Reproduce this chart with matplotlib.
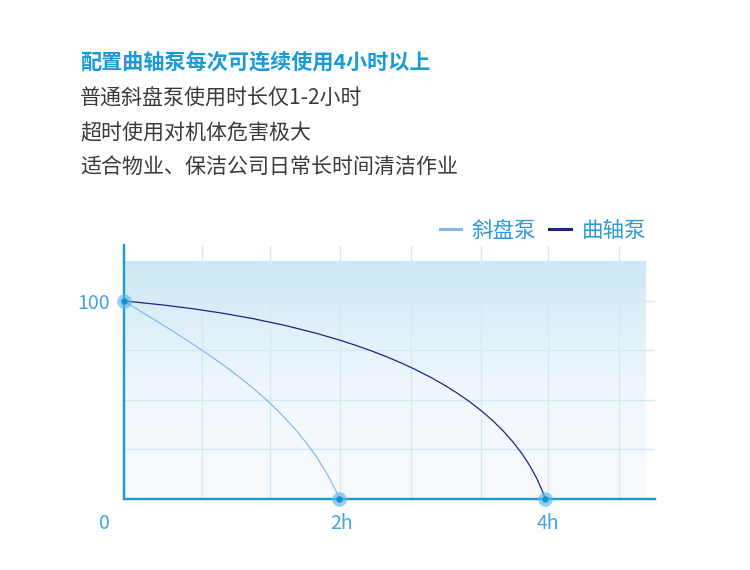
import numpy as np
import matplotlib
matplotlib.use("Agg")
import matplotlib.pyplot as plt
from matplotlib.path import Path
from matplotlib.patches import PathPatch
from matplotlib.lines import Line2D
from matplotlib.colors import LinearSegmentedColormap

plt.rcParams['font.family'] = ['Noto Sans CJK SC', 'DejaVu Sans']

# =========================
# DATA
# =========================
headline = "配置曲轴泵每次可连续使用4小时以上"
notes = ["普通斜盘泵使用时长仅1-2小时",
         "超时使用对机体危害极大",
         "适合物业、保洁公司日常长时间清洁作业"]

series_names = ["斜盘泵", "曲轴泵"]

# (hours, remaining level)
hours_swash = [0, 0.52, 0.72, 0.98, 1.32, 1.61, 1.74, 1.90, 2.0]
level_swash = [100, 82.8, 75.2, 64.8, 50.0, 34.7, 24.6, 9.4, 0]

hours_crank = [0, 0.72, 1.36, 2.01, 2.25, 2.65, 2.94, 3.18, 3.31, 3.52, 3.68, 3.84, 3.91]
level_crank = [100, 95.8, 89.5, 80.2, 75.2, 66.4, 58.2, 50.1, 45.0, 34.7, 24.6, 9.4, 0]

x_labels = ["0", "2h", "4h"]
x_label_pos = [-0.18, 2.02, 3.94]
y_ticks = [100]

grid_x = [0.72, 1.36, 2.01, 2.66, 3.31, 3.94, 4.60]
grid_y = [25, 50, 75, 100]

# =========================
# STYLE
# =========================
BLUE = "#1a9ad8"
LIGHT = "#86b9ea"
DARK = "#1d2488"
GRAY = "#3a3a3a"
GRID = "#d3e9f8"
TICK = "#45a4dc"


def bezier_path(ax, xs, ys):
    # one cubic bezier through the read points (ends fixed, least squares
    # for the two handles), fitted in pixel space
    pts = ax.transData.transform(np.column_stack([xs, ys]))
    d = np.r_[0, np.cumsum(np.hypot(*np.diff(pts, axis=0).T))]
    t = d / d[-1]
    p0, p3 = pts[0], pts[-1]
    for _ in range(20):
        b0 = (1 - t) ** 3
        b1 = 3 * t * (1 - t) ** 2
        b2 = 3 * t ** 2 * (1 - t)
        b3 = t ** 3
        A = np.column_stack([b1, b2])
        rhs = pts - np.outer(b0, p0) - np.outer(b3, p3)
        ctrl, *_ = np.linalg.lstsq(A, rhs, rcond=None)
        p1, p2 = ctrl
        # refine the parameters (one newton step per point)
        c = (np.outer(b0, p0) + np.outer(b1, p1) + np.outer(b2, p2)
             + np.outer(b3, p3))
        dc = (3 * np.outer((1 - t) ** 2, p1 - p0)
              + 6 * np.outer(t * (1 - t), p2 - p1)
              + 3 * np.outer(t ** 2, p3 - p2))
        ddc = (6 * np.outer(1 - t, p2 - 2 * p1 + p0)
               + 6 * np.outer(t, p3 - 2 * p2 + p1))
        num = np.sum((c - pts) * dc, axis=1)
        den = np.sum(dc * dc, axis=1) + np.sum((c - pts) * ddc, axis=1)
        t = np.clip(t - num / den, 0, 1)
        t[0], t[-1] = 0, 1
    verts = ax.transData.inverted().transform(np.vstack([p0, p1, p2, p3]))
    return Path(verts, [Path.MOVETO, Path.CURVE4, Path.CURVE4, Path.CURVE4])


fig = plt.figure(figsize=(7.5, 5.7), dpi=100)
ax = fig.add_axes([124 / 750, (570 - 498.5) / 570, 531 / 750, 253.5 / 570])
ax.set_xlim(0, 4.93)
ax.set_ylim(0, 128.4)

# gradient panel
cmap = LinearSegmentedColormap.from_list(
    "bg", [(0, "#f8fbfe"), (0.45, "#f1f8fd"), (1, "#cde8f5")])
grad = np.linspace(0, 1, 256).reshape(-1, 1)
ax.imshow(grad, extent=[0, 4.84, 0, 120], origin="lower", aspect="auto",
          cmap=cmap, zorder=0)

# grid
ax.hlines(grid_y, 0, 4.93, color=GRID, lw=1, zorder=1)
ax.vlines(grid_x, 0, 128.4, color=GRID, lw=1, zorder=1)

# curves
ax.add_patch(PathPatch(bezier_path(ax, hours_swash, level_swash), fc="none",
                       ec=LIGHT, lw=0.9, zorder=3))
ax.add_patch(PathPatch(bezier_path(ax, hours_crank, level_crank), fc="none",
                       ec=DARK, lw=0.9, zorder=3))

# end markers
mx = [hours_swash[0], hours_swash[-1], hours_crank[-1]]
my = [level_swash[0], level_swash[-1], level_crank[-1]]
ax.plot(mx, my, "o", ms=10.5, color="#5ab7e8", alpha=0.65, mec="none",
        clip_on=False, zorder=5)
ax.plot(mx, my, "o", ms=4.6, color="#1590d3", mec="none",
        clip_on=False, zorder=6)

# axes
for s in ["top", "right"]:
    ax.spines[s].set_visible(False)
for s in ["left", "bottom"]:
    ax.spines[s].set_color(BLUE)
    ax.spines[s].set_linewidth(1.7)
ax.set_xticks([])
ax.set_yticks(y_ticks)
ax.set_yticklabels([str(v) for v in y_ticks])
ax.tick_params(axis="y", length=0, pad=10, labelsize=14, labelcolor=TICK)

for lab, xp in zip(x_labels, x_label_pos):
    ax.text(xp, -12.7, lab, ha="center", va="center", fontsize=14,
            color=TICK, clip_on=False)

# legend
handles = [Line2D([], [], color=LIGHT, lw=2.2),
           Line2D([], [], color=DARK, lw=2.2)]
leg = fig.legend(handles, series_names, loc="center right",
                 bbox_to_anchor=(646 / 750, 1 - 231 / 570), ncol=2,
                 frameon=False, fontsize=15.5, labelcolor="#2f9ad6",
                 handlelength=1.0, handletextpad=0.5, columnspacing=0.6,
                 borderpad=0, borderaxespad=0)

# text block
fig.text(80 / 750, 1 - 62 / 570, headline, fontsize=15.2, fontweight="bold",
         color=BLUE, va="center", ha="left")
for i, line in enumerate(notes):
    fig.text(80 / 750, 1 - [99, 133, 167][i] / 570, line, fontsize=15.1,
             color=GRAY, va="center", ha="left")

plt.savefig("out.png", dpi=100)
